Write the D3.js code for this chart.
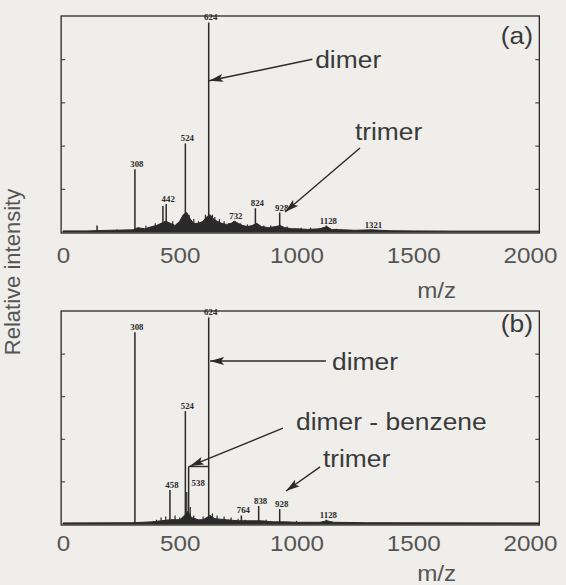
<!DOCTYPE html>
<html>
<head>
<meta charset="utf-8">
<style>
  body { margin: 0; background: #efeeeb; }
  svg { display: block; }
</style>
</head>
<body>
<svg id="chart"></svg>
<script src="https://d3js.org/d3.v7.min.js"></script>
<script>

// ---- data (m/z, relative intensity %) ----
var xTicks = [0, 500, 1000, 1500, 2000];

// labelled peaks, panel (a)
var peaksA = [
  [146, 3, ""], [308, 29, "308"], [428, 12, ""], [442, 13, "442"],
  [524, 41, "524"], [624, 97, "624"], [732, 5, "732"], [824, 11, "824"],
  [928, 9, "928"], [1128, 3, "1128"], [1321, 1, "1321"]
];
// small spikes, panel (a)
var noiseA = [
  [230, 1.2], [270, 1], [355, 3], [395, 4], [410, 3.5], [470, 5], [490, 4],
  [515, 7], [540, 8], [560, 6], [580, 5], [610, 8], [640, 8], [650, 7],
  [670, 6], [690, 5], [710, 4], [760, 4], [790, 3.5], [860, 3], [890, 3],
  [960, 2.5], [1020, 2], [1060, 2], [1100, 1.8], [1170, 1.5]
];
// grass envelope, panel (a)
var baseA = [
  [0, 0.5], [100, 0.5], [200, 0.8], [300, 1], [320, 2], [350, 1.5], [380, 2.5],
  [400, 3], [420, 4], [440, 5], [460, 4], [480, 3], [500, 5], [515, 8], [530, 9],
  [545, 6], [560, 4], [580, 4], [600, 5], [615, 7], [630, 8], [645, 6], [660, 5],
  [680, 4], [700, 3.5], [720, 4], [735, 5], [750, 4], [770, 3], [790, 2.5],
  [810, 3], [830, 4], [850, 2.5], [880, 2], [910, 2.5], [930, 3], [950, 2],
  [980, 1.5], [1000, 1.5], [1050, 1.2], [1100, 1.5], [1130, 2.5], [1150, 1.2],
  [1200, 1], [1250, 0.8], [1320, 1], [1400, 0.6], [1500, 0.5], [1700, 0.4], [2040, 0.4]
];

// labelled peaks, panel (b)
var peaksB = [
  [308, 90, "308"], [458, 16, "458"], [524, 53, "524"], [538, 27, "538"],
  [624, 97, "624"], [764, 4, "764"], [838, 8.5, "838"], [928, 7, "928"],
  [1128, 2, "1128"]
];
var noiseB = [
  [400, 2], [420, 3], [440, 3.5], [480, 4], [500, 3], [530, 15], [545, 8],
  [560, 4], [600, 3.5], [640, 5], [660, 4], [690, 3.5], [720, 3], [750, 2.5],
  [780, 2], [870, 2], [1000, 1.5]
];
var baseB = [
  [0, 0.5], [300, 0.6], [380, 1], [420, 1.5], [460, 2], [500, 2], [520, 4],
  [535, 6], [550, 3], [580, 2], [600, 2], [630, 4], [650, 2.5], [700, 2],
  [750, 1.5], [800, 1.5], [850, 1.5], [900, 1], [950, 1], [1000, 0.8],
  [1100, 0.8], [1130, 1.5], [1160, 0.8], [1300, 0.6], [2040, 0.5]
];

var W = 566, H = 585;
var ink = "#2a2a2a", textInk = "#3a3a3a", tickInk = "#555";
var font = "'Liberation Sans', Arial, sans-serif";

var svg = d3.select("#chart").attr("width", W).attr("height", H);

svg.append("defs").append("marker")
    .attr("id", "head")
    .attr("markerUnits", "userSpaceOnUse")
    .attr("viewBox", "0 0 14 8")
    .attr("refX", 14).attr("refY", 4)
    .attr("markerWidth", 14).attr("markerHeight", 8)
    .attr("orient", "auto")
  .append("path")
    .attr("d", "M0,0L14,4L0,8L3,4Z")
    .attr("fill", ink);

var x = d3.scaleLinear().domain([0, 2000]).range([63, 530]);

function panel(cfg) {
  var y = d3.scaleLinear().domain([0, 100]).range([cfg.bottom, cfg.top]);
  var g = svg.append("g");

  // grass
  g.append("path")
      .datum(cfg.base)
      .attr("fill", ink)
      .attr("stroke", ink)
      .attr("stroke-width", 1)
      .attr("d", d3.area()
        .x(function(d) { return x(d[0]); })
        .y0(y(0))
        .y1(function(d) { return y(d[1]); }));

  g.selectAll(".noise")
    .data(cfg.noise)
    .enter().append("line")
      .attr("x1", function(d) { return x(d[0]); })
      .attr("x2", function(d) { return x(d[0]); })
      .attr("y1", y(0))
      .attr("y2", function(d) { return y(d[1]); })
      .attr("stroke", ink)
      .attr("stroke-width", 1.2);

  g.selectAll(".peak")
    .data(cfg.peaks)
    .enter().append("line")
      .attr("x1", function(d) { return x(d[0]); })
      .attr("x2", function(d) { return x(d[0]); })
      .attr("y1", y(0))
      .attr("y2", function(d) { return y(d[1]); })
      .attr("stroke", ink)
      .attr("stroke-width", 1.5);

  g.selectAll(".plab")
    .data(cfg.peaks.filter(function(d) { return d[2]; }))
    .enter().append("text")
      .attr("transform", function(d) {
        var inside = d[2] == "538";
        var px = inside ? x(d[0]) + 3 : x(d[0]) + 2;
        var py = inside ? y(d[1]) + 20 : y(d[1]) - 2;
        return "translate(" + px + "," + py + ") scale(1.1,1)";
      })
      .attr("text-anchor", function(d) { return d[2] == "538" ? "start" : "middle"; })
      .attr("font-family", "'Liberation Serif', serif")
      .attr("font-weight", "bold")
      .attr("font-size", 8)
      .attr("fill", ink)
      .text(function(d) { return d[2]; });

  // frame
  g.append("rect")
      .attr("x", x(-8)).attr("y", cfg.top)
      .attr("width", x(2040) - x(-8)).attr("height", cfg.bottom - cfg.top + 1)
      .attr("fill", "none")
      .attr("stroke", ink)
      .attr("stroke-width", 1.3);

  g.append("g")
      .attr("transform", "translate(" + x(-8) + ",0)")
      .call(d3.axisLeft(y).tickValues([20, 40, 60, 80]).tickSize(-4).tickFormat(""))
      .call(function(a) { a.select(".domain").remove(); a.selectAll("line").attr("stroke", ink); });
  g.append("g")
      .attr("transform", "translate(" + x(2040) + ",0)")
      .call(d3.axisRight(y).tickValues([20, 40, 60, 80]).tickSize(-4).tickFormat(""))
      .call(function(a) { a.select(".domain").remove(); a.selectAll("line").attr("stroke", ink); });

  // x axis labels
  g.append("g")
      .attr("transform", "translate(0," + (cfg.bottom + 1) + ")")
      .call(d3.axisBottom(x).tickValues(xTicks).tickSize(0).tickPadding(cfg.pad).tickFormat(d3.format("d")))
      .call(function(a) {
        a.select(".domain").remove();
        a.selectAll("text")
          .attr("font-family", font)
          .attr("font-size", 22)
          .attr("fill", tickInk)
          .attr("transform", "scale(1.1,1)");
      });

  g.append("text")
      .attr("transform", "translate(" + x(1600) + "," + cfg.mzY + ") scale(1.1,1)")
      .attr("text-anchor", "middle")
      .attr("font-family", font)
      .attr("font-size", 22)
      .attr("fill", tickInk)
      .text("m/z");

  // annotations (data coordinates)
  cfg.notes.forEach(function(n) {
    g.append("text")
        .attr("transform", "translate(" + x(n.tx) + "," + y(n.ty) + ") scale(1.1,1)")
        .attr("text-anchor", n.anchor || "start")
        .attr("font-family", font)
        .attr("font-size", 24)
        .attr("fill", textInk)
        .text(n.text);
    if (n.from) {
      g.append("line")
          .attr("x1", x(n.from[0])).attr("y1", y(n.from[1]))
          .attr("x2", x(n.to[0])).attr("y2", y(n.to[1]))
          .attr("stroke", ink)
          .attr("stroke-width", 1.4)
          .attr("marker-end", "url(#head)");
    }
  });

  if (cfg.bar) {
    g.append("line")
        .attr("x1", x(cfg.bar[0])).attr("x2", x(cfg.bar[1]))
        .attr("y1", y(cfg.bar[2])).attr("y2", y(cfg.bar[2]))
        .attr("stroke", ink)
        .attr("stroke-width", 1.4);
  }
}

panel({
  top: 16, bottom: 232, pad: 14, mzY: 298,
  peaks: peaksA, noise: noiseA, base: baseA,
  notes: [
    { text: "(a)", tx: 2013, ty: 87, anchor: "end" },
    { text: "dimer", tx: 1080, ty: 76, from: [1068, 80], to: [626, 70] },
    { text: "trimer", tx: 1250, ty: 42.6, from: [1272, 38.9], to: [951, 9.3] }
  ]
});

panel({
  top: 311, bottom: 524, pad: 10, mzY: 581,
  peaks: peaksB, noise: noiseB, base: baseB,
  bar: [538, 624, 27],
  notes: [
    { text: "(b)", tx: 2013, ty: 90, anchor: "end" },
    { text: "dimer", tx: 1152, ty: 72.3, from: [1126, 76.5], to: [630, 76.5] },
    { text: "dimer - benzene", tx: 998, ty: 44, from: [942, 45], to: [544, 27.2] },
    { text: "trimer", tx: 1113, ty: 26.8, from: [1101, 26.8], to: [955, 15.5] }
  ]
});

svg.append("text")
    .attr("transform", "translate(20,272) rotate(-90)")
    .attr("text-anchor", "middle")
    .attr("font-family", font)
    .attr("font-size", 22)
    .attr("fill", tickInk)
    .text("Relative intensity");

</script>
</body>
</html>
